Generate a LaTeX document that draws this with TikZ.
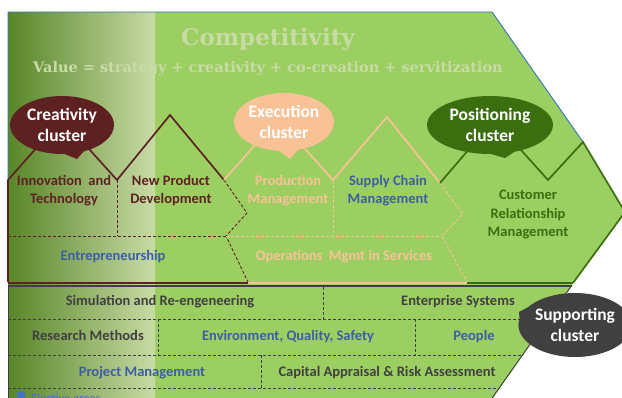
\documentclass[tikz,border=0pt]{standalone}
\usepackage{fontspec}
\setmainfont{Carlito}
\newfontfamily\titlefont{DejaVu Serif}
\usetikzlibrary{shapes.callouts}
\definecolor{mgreen}{RGB}{156,207,97}
\definecolor{gdark}{RGB}{88,134,40}
\definecolor{glight}{RGB}{200,219,165}
\definecolor{cbrown}{RGB}{94,33,33}
\definecolor{cpeach}{RGB}{248,194,150}
\definecolor{cgreen}{RGB}{58,110,14}
\definecolor{cblue}{RGB}{61,94,166}
\definecolor{cgray}{RGB}{64,64,64}
\definecolor{ctitle}{RGB}{200,219,165}
\definecolor{oblue}{RGB}{46,117,182}
\definecolor{lblue}{RGB}{68,114,196}
\tikzset{
  lbl/.style={font=\bfseries\fontsize{14.5}{18.5}\selectfont, align=center, inner sep=0pt},
  bubble/.style={ellipse callout, inner sep=0pt, align=center, text=white,
     font=\bfseries\fontsize{17.5}{21}\selectfont, callout pointer arc=22},
  solidln/.style={line width=1.7pt, line join=miter},
  dashln/.style={line width=0.9pt, dash pattern=on 3pt off 2pt},
}
\begin{document}
\begin{tikzpicture}[x=1pt,y=-1pt]
\useasboundingbox (0,0) rectangle (622,397);
\clip (0,0) rectangle (622,397);
% body shapes
\fill[mgreen] (8,12) -- (492,12) -- (583,142) -- (625,212) -- (573,283) -- (8,283) -- cycle;
\fill[mgreen] (8,283) -- (573,283) -- (490,402) -- (8,402) -- cycle;
\shade[left color=gdark, right color=glight] (8,12) rectangle (155,400);
% outline
\draw[oblue, line width=0.9pt] (8,180) -- (8,12) -- (492,12) -- (583,142);
% title
\node[font=\titlefont\bfseries\fontsize{23}{28}\selectfont, text=ctitle, anchor=base, inner sep=0pt] (title) at (268,45) {Competitivity};
\node[font=\titlefont\bfseries\fontsize{14.5}{18}\selectfont, text=ctitle, anchor=base, inner sep=0pt] (value) at (268,72) {Value = strategy + creativity + co-creation + servitization};
% dashed inner lines
\draw[cbrown, dashln] (224,180) -- (247,213) -- (226,236) -- (248,282);
\draw[cbrown, dashln] (8,236) -- (226,236);
\draw[cbrown, dashln] (117,180) -- (117,236);
\draw[cpeach, dashln] (440,183) -- (463,214) -- (442,236) -- (467,282);
\draw[cpeach, dashln] (226,236) -- (442,236);
\draw[cpeach, dashln] (333,180) -- (333,236);
% solid pentagon outlines
\draw[cbrown, solidln] (8,282) -- (8,180) -- (62,119) -- (117,180) -- (170,115) -- (224,180);
\draw[cpeach, solidln] (224,180) -- (278,119) -- (333,180) -- (387,117) -- (440,183);
\draw[cgreen, solidln] (440,183) -- (494,120) -- (548,180) -- (583,142) -- (625,212) -- (573,283);
% separator
\draw[cgray, line width=2.6pt] (8,285.8) -- (572,285.8);
\draw[cbrown, line width=2pt] (8,282.5) -- (248,282.5);
\draw[cpeach, line width=2pt] (248,282.5) -- (467,282.5);
\draw[cgreen, line width=2pt] (467,282.5) -- (573,282.5);
% lower panel edges
\draw[cgray, line width=1pt] (8,285) -- (8,400);
\draw[cgray, line width=1pt] (572,285) -- (490,401);
% lower dashed grid
\draw[cgray, dashln] (8,319) -- (548,319);
\draw[cgray, dashln] (8,355) -- (523,355);
\draw[cgray, dashln] (8,388) -- (499,388);
\draw[cgray, dashln] (323,287) -- (323,319);
\draw[cgray, dashln] (158,319) -- (158,355);
\draw[cgray, dashln] (415,319) -- (415,355);
\draw[cgray, dashln] (261,355) -- (261,388);
% upper labels
\node[lbl, text=cbrown] (inno) at (64,190.5) {Innovation\ \ and\\Technology};
\node[lbl, text=cbrown] (npd) at (171,190.5) {New Product\\Development};
\node[lbl, text=cpeach] (prod) at (288,190.5) {Production\\Management};
\node[lbl, text=cblue] (scm) at (388,190.5) {Supply Chain\\Management};
\node[lbl, text=cgreen] (crm) at (528,214.5) {Customer\\Relationship\\Management};
\node[lbl, text=cblue, anchor=base] (entre) at (113,260) {Entrepreneurship};
\node[lbl, text=cpeach, anchor=base] (oms) at (344,260) {Operations\ \ Mgmt in Services};
% lower labels
\node[lbl, text=cgray, anchor=base] (sim) at (160,305) {Simulation and\ Re-engeneering};
\node[lbl, text=cgray, anchor=base] (ent) at (458,305) {Enterprise Systems};
\node[lbl, text=cgray, anchor=base] (res) at (88,340.5) {Research Methods};
\node[lbl, text=cblue, anchor=base] (env) at (288,340.5) {Environment, Quality, Safety};
\node[lbl, text=cblue, anchor=base] (ppl) at (474,340.5) {People};
\node[lbl, text=cblue, anchor=base] (pm) at (142,376.5) {Project Management};
\node[lbl, text=cgray, anchor=base] (cap) at (387,376.5) {Capital Appraisal \& Risk Assessment};
% legend (cut off)
\fill[lblue] (17,391) rectangle (25,400);
\node[font=\fontsize{12.5}{15}\selectfont, text=lblue, anchor=base west, inner sep=0pt] (leg) at (31,402) {Elective areas};
% callouts
\node[bubble, fill=cbrown, minimum width=104pt, minimum height=58pt, callout absolute pointer={(77,159)}] (crea) at (62,125) {Creativity\\cluster};
\node[bubble, fill=cpeach, minimum width=94pt, minimum height=58pt, callout absolute pointer={(290,159)}] (exec) at (284,122) {Execution\\cluster};
\node[bubble, fill=cgreen, minimum width=126pt, minimum height=58pt, callout absolute pointer={(505,158)}] (posi) at (490,125) {Positioning\\cluster};
\node[bubble, fill=cgray, minimum width=92pt, minimum height=64pt, callout absolute pointer={(519,312)}] (supp) at (575,325) {Supporting\\cluster};
\end{tikzpicture}
\end{document}
